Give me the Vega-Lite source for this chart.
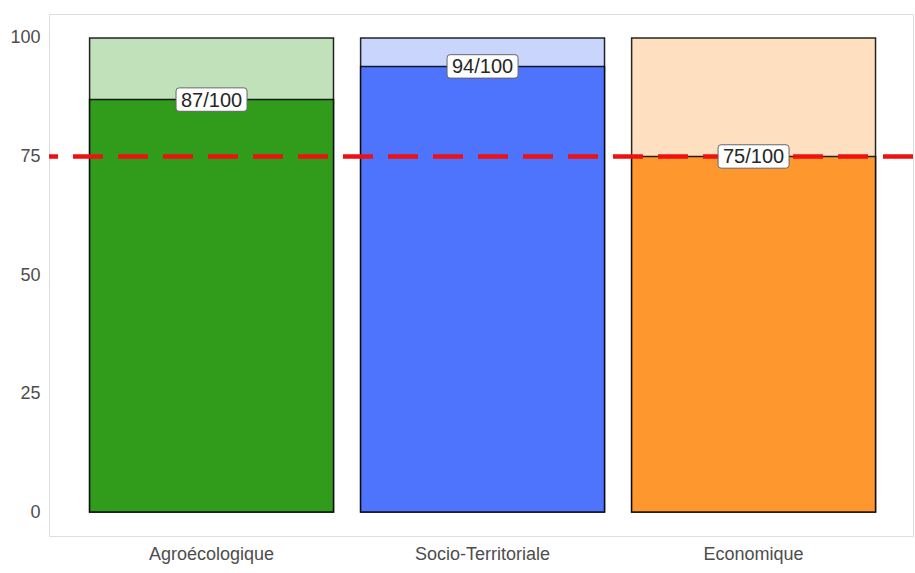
{
  "$schema": "https://vega.github.io/schema/vega-lite/v6.json",
  "width": 864,
  "height": 522,
  "autosize": {"type": "none"},
  "padding": {"left": 49, "top": 14, "right": 2, "bottom": 37},
  "background": "white",
  "config": {
    "view": {"stroke": "#dedede", "strokeWidth": 1},
    "font": "Liberation Sans"
  },
  "data": {
    "values": [
      {"dimension": "Agroécologique", "score": 87, "max": 100, "label": "87/100"},
      {"dimension": "Socio-Territoriale", "score": 94, "max": 100, "label": "94/100"},
      {"dimension": "Economique", "score": 75, "max": 100, "label": "75/100"}
    ]
  },
  "encoding": {
    "x": {
      "field": "dimension",
      "type": "nominal",
      "sort": ["Agroécologique", "Socio-Territoriale", "Economique"],
      "scale": {"paddingInner": 0.1, "paddingOuter": 0.144, "align": 0.52},
      "axis": {
        "title": null,
        "labelAngle": 0,
        "ticks": false,
        "domain": false,
        "labelFontSize": 18,
        "labelColor": "#4d4d4d",
        "labelPadding": 9,
        "labelFont": "Liberation Sans"
      }
    },
    "color": {
      "field": "dimension",
      "type": "nominal",
      "scale": {
        "domain": ["Agroécologique", "Socio-Territoriale", "Economique"],
        "range": ["#319b1b", "#4e73fc", "#fd972e"]
      },
      "legend": null
    }
  },
  "layer": [
    {
      "mark": {"type": "bar", "fillOpacity": 0.3, "stroke": "#000", "strokeOpacity": 0.85, "strokeWidth": 1.5},
      "encoding": {
        "y": {
          "field": "max",
          "type": "quantitative",
          "scale": {"domain": [-5.05, 105.05], "nice": false, "zero": false},
          "axis": {
            "title": null,
            "values": [0, 25, 50, 75, 100],
            "grid": false,
            "ticks": false,
            "domain": false,
            "labelFontSize": 18,
            "labelColor": "#4d4d4d",
            "labelPadding": 9,
            "labelFont": "Liberation Sans"
          }
        },
        "y2": {"datum": 0}
      }
    },
    {
      "mark": {"type": "bar", "stroke": "#000", "strokeOpacity": 0.85, "strokeWidth": 1.5},
      "encoding": {
        "y": {"field": "score", "type": "quantitative"},
        "y2": {"datum": 0}
      }
    },
    {
      "data": {"values": [{"threshold": 75}]},
      "mark": {"type": "rule", "color": "#ee1111", "strokeWidth": 4.5, "strokeDash": [30, 15]},
      "encoding": {
        "y": {"field": "threshold", "type": "quantitative"},
        "x": null,
        "color": null
      }
    },
    {
      "mark": {
        "type": "point",
        "filled": true,
        "fill": "white",
        "stroke": "#666666",
        "strokeWidth": 1,
        "opacity": 1,
        "size": 5041,
        "shape": "M-0.914,-0.33 H0.914 Q1,-0.33 1,-0.245 V0.245 Q1,0.33 0.914,0.33 H-0.914 Q-1,0.33 -1,0.245 V-0.245 Q-1,-0.33 -0.914,-0.33 Z"
      },
      "encoding": {
        "y": {"field": "score", "type": "quantitative"},
        "color": null
      }
    },
    {
      "mark": {"type": "text", "fontSize": 20, "color": "#262626", "baseline": "middle", "align": "center", "dy": 1, "font": "Liberation Sans"},
      "encoding": {
        "y": {"field": "score", "type": "quantitative"},
        "text": {"field": "label"},
        "color": null
      }
    }
  ]
}
